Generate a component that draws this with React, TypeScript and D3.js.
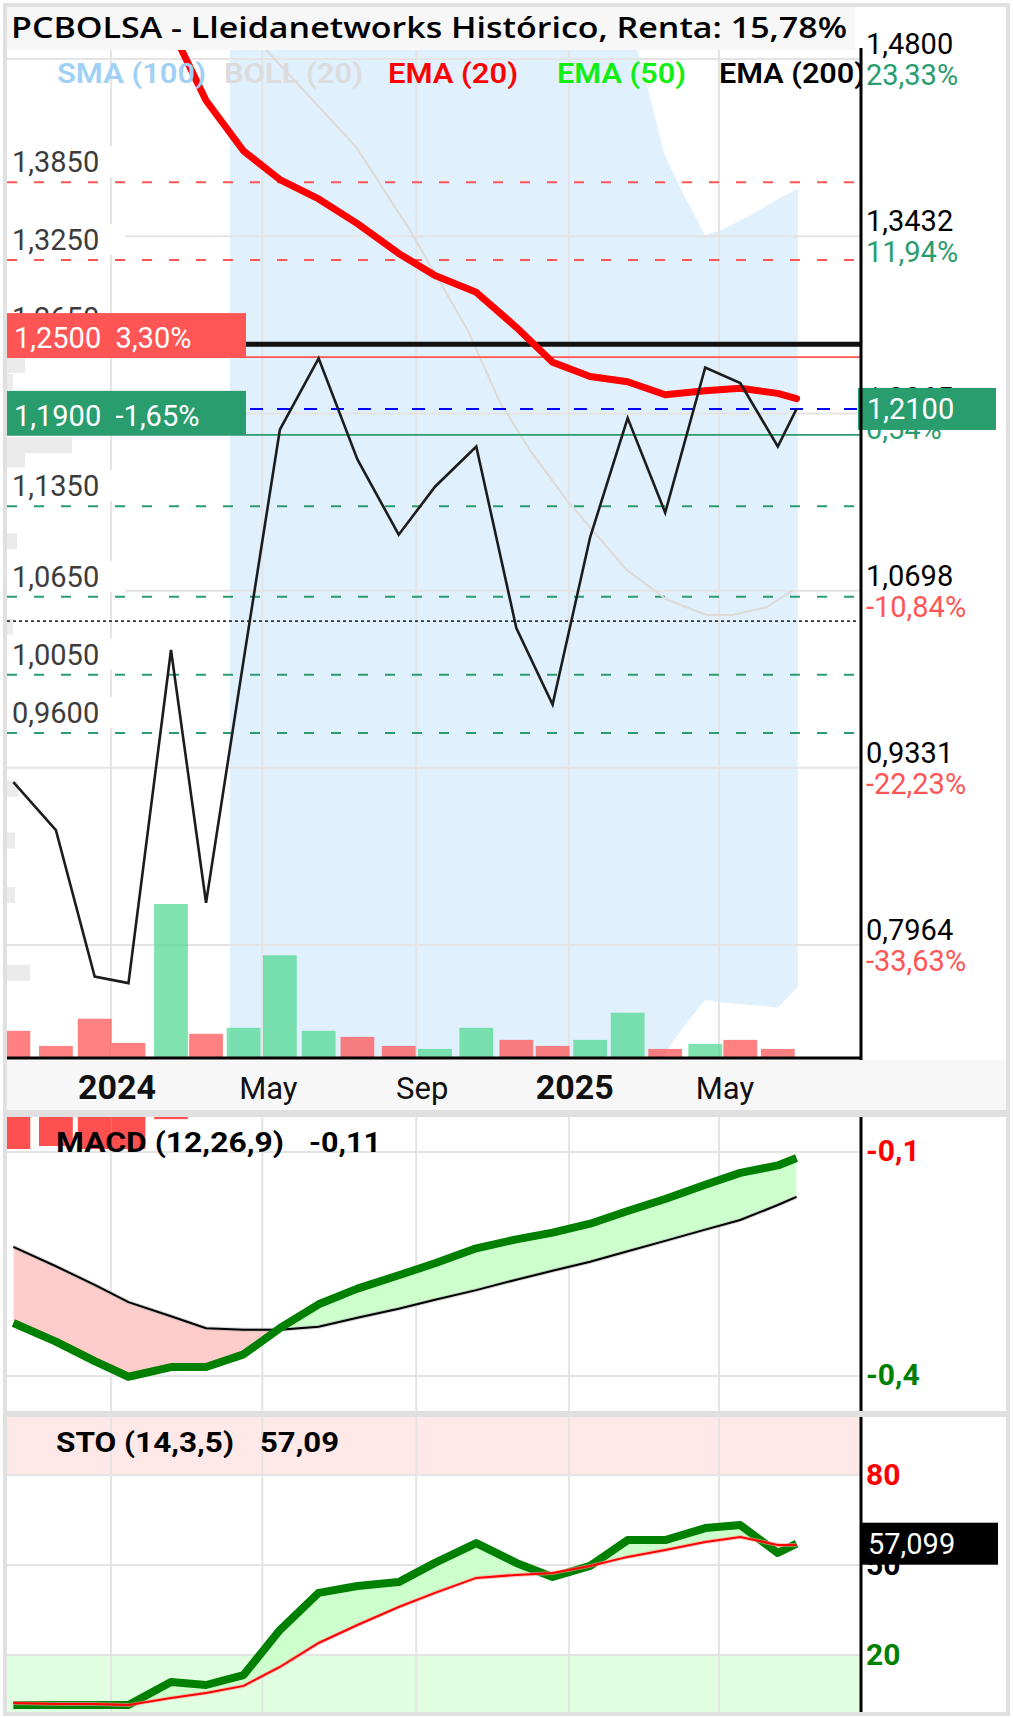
import React from 'react';
import * as d3 from 'd3';

// monthly history (last point = current day)
const dates = [
  '2023-10-15', '2023-11-18', '2023-12-19', '2024-01-15', '2024-02-18', '2024-03-17',
  '2024-04-16', '2024-05-15', '2024-06-15', '2024-07-16', '2024-08-18', '2024-09-16',
  '2024-10-19', '2024-11-20', '2024-12-19', '2025-01-18', '2025-02-17', '2025-03-19',
  '2025-04-20', '2025-05-18', '2025-06-17', '2025-07-02',
];
const close = [
  0.922, 0.885, 0.772, 0.767, 1.024, 0.829, 1.016, 1.194, 1.249, 1.171, 1.113,
  1.15, 1.181, 1.041, 0.982, 1.111, 1.203, 1.13, 1.242, 1.23, 1.181, 1.21,
];
const volume = [180, 80, 260, 100, 1020, 160, 200, 680, 180, 140, 80, 60, 200, 120, 80, 120, 300, 60, 93, 120, 60];
const ema20 = [
  null, null, null, null, 1.504, 1.448, 1.409, 1.387, 1.372, 1.353, 1.33,
  1.313, 1.3, 1.273, 1.246, 1.235, 1.231, 1.221, 1.224, 1.226, 1.222, 1.218,
];
const macdLine = [
  -0.329, -0.354, -0.38, -0.401, -0.388, -0.388, -0.371, -0.336, -0.304, -0.283, -0.265,
  -0.249, -0.229, -0.217, -0.208, -0.196, -0.179, -0.163, -0.144, -0.128, -0.118, -0.108,
];
const macdSignal = [
  -0.227, -0.253, -0.278, -0.301, -0.32, -0.336, -0.338, -0.338, -0.334, -0.322, -0.31,
  -0.298, -0.285, -0.271, -0.259, -0.247, -0.233, -0.219, -0.204, -0.191, -0.171, -0.16,
];
const macdHist = [
  -0.096, -0.092, -0.096, -0.096, -0.056, -0.052, -0.033, 0.002, 0.03, 0.039, 0.045,
  0.049, 0.056, 0.054, 0.051, 0.051, 0.054, 0.056, 0.06, 0.063, 0.053,
];
const stoK = [
  3.3, 3.3, 3.3, 3.3, 11, 10, 13.3, 28.3, 40.7, 43, 44.3,
  50.7, 57.3, 50.7, 46, 49.7, 58.3, 58.3, 62.3, 63.3, 54, 57.099,
];
const stoD = [
  4, 3.7, 3.7, 3.3, 5.7, 7.3, 9.7, 16, 24, 30, 36,
  40.7, 45.7, 46.7, 47.3, 49.7, 52.7, 55, 57.7, 59.3, 56.7, 56.7,
];

// SMA (100)
const smaDates = [
  '2024-04-16', '2024-05-06', '2024-07-15', '2024-08-27', '2024-10-12', '2024-11-07', '2024-12-01',
  '2024-12-30', '2025-02-16', '2025-03-20', '2025-04-21', '2025-05-12', '2025-06-08', '2025-06-29',
];
const smaValues = [1.505, 1.485, 1.412, 1.348, 1.271, 1.215, 1.178, 1.14, 1.086, 1.063, 1.051, 1.051, 1.057, 1.07];

// BOLL (20)
const bandDates = [
  '2024-04-05', '2025-02-21', '2025-03-02', '2025-03-18', '2025-04-04',
  '2025-04-20', '2025-05-03', '2025-05-29', '2025-06-17', '2025-07-03',
];
const bandUpper = [1.95, 1.5, 1.469, 1.407, 1.373, 1.344, 1.348, 1.361, 1.372, 1.38];
const bandLower = [0.3, 0.66, 0.68, 0.712, 0.735, 0.754, 0.752, 0.75, 0.748, 0.764];

// levels
const srLevels = [1.385, 1.325, 1.135, 1.065, 1.005, 0.96];
const coveredLevels = [1.265]; // label sits under the alert box
const pivotLevel = 1.0463;
const ema200Level = 1.26;
const alertPrices = [1.25, 1.19];
const alertPcts = [3.3, -1.65];
const priceTicks = [1.48, 1.3432, 1.2065, 1.0698, 0.9331, 0.7964];
const tickPcts = [23.33, 11.94, 0.54, -10.84, -22.23, -33.63];
const macdTicks = [-0.1, -0.4];
const stoTicks = [80, 50, 20];
const profilePrices = [1.244, 1.231, 1.182, 1.171, 1.108, 1.042, 0.917, 0.877, 0.835, 0.775];
const profileVolume = [18, 6, 65, 18, 10, 6, 11, 8, 8, 23];

const legendLabels = ['SMA (100)', 'BOLL (20)', 'EMA (20)', 'EMA (50)', 'EMA (200)'];
const legendColors = ['#9fd0f5', '#dcdcdc', '#ff0000', '#11ee11', '#000000'];
const legendX = [57, 224, 388, 557, 719];
const legendW = [149, 139, 130, 129, 146];

const FONT = 'Roboto, "DejaVu Sans", sans-serif';
const GREEN = '#2a9d6f';
const RED = '#ff5555';

const parse = d3.timeParse('%Y-%m-%d');
const fmt4 = (v: number) => v.toFixed(4).replace('.', ',');
const fmtPct = (v: number) => v.toFixed(2).replace('.', ',') + '%';

const L = 7, R = 861;
const MAIN_TOP = 50, MAIN_BOT = 1058;
const MACD_TOP = 1117, MACD_BOT = 1411;
const STO_TOP = 1417, STO_BOT = 1712;

type P = { x: number; a: number; b: number };

function BetweenFill({ id, pts, top, bottom, up, down }: { id: string; pts: P[]; top: number; bottom: number; up: string; down: string }) {
  const above = d3.area<P>().x(p => p.x).y0(top).y1(p => p.b)(pts) || '';
  const below = d3.area<P>().x(p => p.x).y0(p => p.b).y1(bottom)(pts) || '';
  const fill = d3.area<P>().x(p => p.x).y0(p => p.b).y1(p => p.a)(pts) || '';
  return (
    <g>
      <defs>
        <clipPath id={id + '-up'}><path d={above} /></clipPath>
        <clipPath id={id + '-dn'}><path d={below} /></clipPath>
      </defs>
      <path d={fill} fill={up} clipPath={`url(#${id}-up)`} />
      <path d={fill} fill={down} clipPath={`url(#${id}-dn)`} />
    </g>
  );
}

export default function App() {
  const dts = dates.map(d => parse(d) as Date);
  const x = d3.scaleTime().domain([new Date(2023, 9, 10, 17), new Date(2025, 7, 22, 12)]).range([8, R]);
  const yP = d3.scaleLinear().domain([0.7964, 1.48]).range([945, 59]);
  const yV = d3.scaleLinear().domain([0, d3.max(volume) as number]).range([MAIN_BOT, 904]);
  const yM = d3.scaleLinear().domain([-0.4, -0.1]).range([1376, 1152]);
  const yS = d3.scaleLinear().domain([0, 100]).range([1715, 1415]);
  const xTicks = x.ticks(d3.timeMonth.every(4) as d3.TimeInterval);
  const barW = x(new Date(2024, 0, 28)) - x(new Date(2024, 0, 1));
  const last = close[close.length - 1];

  const priceLine = d3.line<number>().x((_, i) => x(dts[i])).y(v => yP(v))(close) || '';
  const emaLine = d3.line<number | null>()
    .defined(v => v != null)
    .x((_, i) => x(dts[i]))
    .y(v => yP(v as number))(ema20) || '';
  const smaLine = d3.line<number>().x((_, i) => x(parse(smaDates[i]) as Date)).y(v => yP(v))(smaValues) || '';
  const band = d3.area<number>()
    .x((_, i) => x(parse(bandDates[i]) as Date))
    .y0((_, i) => yP(bandLower[i]))
    .y1(v => yP(v))(bandUpper) || '';

  const macdPts: P[] = dts.map((d, i) => ({ x: x(d), a: yM(macdLine[i]), b: yM(macdSignal[i]) }));
  const stoPts: P[] = dts.map((d, i) => ({ x: x(d), a: yS(stoK[i]), b: yS(stoD[i]) }));
  const lineA = d3.line<P>().x(p => p.x).y(p => p.a);
  const lineB = d3.line<P>().x(p => p.x).y(p => p.b);

  const vGrid = (y1: number, y2: number, k: string) =>
    xTicks.map((t, i) => (
      <line key={k + i} x1={x(t)} x2={x(t)} y1={y1} y2={y2} stroke="#e4e4e4" strokeWidth={2} />
    ));

  const macdHeader = macdLine[macdLine.length - 1].toFixed(2).replace('.', ',');
  const stoLast = stoK[stoK.length - 1];
  const stoHeader = (Math.floor(stoLast * 100) / 100).toFixed(2).replace('.', ',');

  return (
    <svg width={1013} height={1718} style={{ position: 'absolute', left: 0, top: 0, display: 'block' }} fontFamily={FONT}>
      <defs>
        <clipPath id="clip-main"><rect x={L} y={MAIN_TOP} width={R - L} height={MAIN_BOT - MAIN_TOP} /></clipPath>
        <clipPath id="clip-macd"><rect x={L} y={MACD_TOP} width={R - L} height={MACD_BOT - MACD_TOP} /></clipPath>
        <clipPath id="clip-sto"><rect x={L} y={STO_TOP} width={R - L} height={STO_BOT - STO_TOP} /></clipPath>
      </defs>
      <rect x={0} y={0} width={1013} height={1718} fill="#fff" />

      {/* ---------- main price panel ---------- */}
      <g clipPath="url(#clip-main)">
        <path d={band} fill="#e0f0fc" />
        {priceTicks.map((v, i) => (
          <line key={'hg' + i} x1={L} x2={R} y1={yP(v)} y2={yP(v)} stroke="#e4e4e4" strokeWidth={2} />
        ))}
        {vGrid(MAIN_TOP, MAIN_BOT, 'vg')}
        {profilePrices.map((p, i) => (
          <rect key={'pf' + i} x={L} y={yP(p) - 8} width={profileVolume[i]} height={16} fill="#ebebeb" />
        ))}
        {coveredLevels.map((v, i) => (
          <text key={'cv' + i} x={12} y={yP(v) - 10} fontSize={29} fill="#3c3c3c">{fmt4(v)}</text>
        ))}
        {srLevels.map((v, i) => (
          <g key={'sr' + i}>
            <rect x={L} y={yP(v) - 36} width={118} height={31} fill="#fff" />
            <text x={12} y={yP(v) - 10} fontSize={29} fill="#3c3c3c">{fmt4(v)}</text>
            <line x1={L} x2={856} y1={yP(v)} y2={yP(v)} stroke={v > last ? RED : GREEN}
              strokeWidth={2} strokeDasharray="10,17" />
          </g>
        ))}
        <line x1={L} x2={856} y1={yP(pivotLevel)} y2={yP(pivotLevel)} stroke="#333" strokeWidth={1.6} strokeDasharray="3,3" />

        {volume.map((v, i) => (
          <rect key={'vb' + i} x={x(dts[i]) - barW / 2} y={yV(v)} width={barW} height={MAIN_BOT - yV(v)}
            fill={i > 0 && close[i] >= close[i - 1] ? '#4ad68b' : '#ff4a4a'} fillOpacity={0.7} />
        ))}

        <path d={smaLine} fill="none" stroke="#dedad6" strokeWidth={2} />
        <line x1={L} x2={R} y1={yP(ema200Level)} y2={yP(ema200Level)} stroke="#111" strokeWidth={5} />
        <line x1={L} x2={R} y1={yP(alertPrices[0])} y2={yP(alertPrices[0])} stroke={RED} strokeWidth={1.6} />
        <line x1={L} x2={R} y1={yP(alertPrices[1])} y2={yP(alertPrices[1])} stroke={GREEN} strokeWidth={1.6} />
        <line x1={L} x2={R} y1={yP(last)} y2={yP(last)} stroke="#0000ff" strokeWidth={2} strokeDasharray="13,14" />
        <path d={emaLine} fill="none" stroke="#ff0000" strokeWidth={7} strokeLinejoin="round" strokeLinecap="round" />
        <path d={priceLine} fill="none" stroke="#1c1c1c" strokeWidth={2.6} strokeLinejoin="miter" />

        {alertPrices.map((v, i) => (
          <g key={'al' + i}>
            <rect x={L} y={yP(v) - 44} width={239} height={44} fill={i === 0 ? RED : GREEN} />
            <text x={14} y={yP(v) - 9} fontSize={29} fill="#fff" style={{ whiteSpace: 'pre' }}>
              {fmt4(v) + '  ' + fmtPct(alertPcts[i])}
            </text>
          </g>
        ))}

        {legendLabels.map((t, i) => (
          <text key={'lg' + i} x={legendX[i]} y={83} fontSize={28} fontWeight={600} fill={legendColors[i]}
            textLength={legendW[i]} lengthAdjust="spacingAndGlyphs">{t}</text>
        ))}
      </g>

      {/* title band */}
      <rect x={L} y={7} width={848} height={43} fill="#f7f7f7" />
      <text x={11} y={38} fontFamily='"Open Sans", "Noto Sans", sans-serif' fontWeight={600} fontSize={28}
        textLength={836} lengthAdjust="spacingAndGlyphs">PCBOLSA - Lleidanetworks Histórico, Renta: 15,78%</text>

      {/* right price axis */}
      {priceTicks.map((v, i) => (
        <g key={'pt' + i}>
          <text x={866} y={yP(v) - 5} fontSize={29} fill="#000">{fmt4(v)}</text>
          <text x={866} y={yP(v) + 26} fontSize={29} fill={tickPcts[i] >= 0 ? GREEN : RED}>{fmtPct(tickPcts[i])}</text>
        </g>
      ))}
      <rect x={858} y={yP(last) - 21} width={138} height={42} fill={GREEN} />
      <text x={867} y={yP(last) + 10} fontSize={29} fill="#fff">{fmt4(last)}</text>
      <line x1={R} x2={R} y1={48} y2={MAIN_BOT + 2} stroke="#000" strokeWidth={3} />
      <line x1={L} x2={R + 1} y1={MAIN_BOT} y2={MAIN_BOT} stroke="#000" strokeWidth={3} />

      {/* time axis band */}
      <rect x={L} y={1060} width={1001} height={50} fill="#f7f7f7" />
      <rect x={L} y={1110} width={1001} height={7} fill="#e0e0e0" />
      {xTicks.map((t, i) => (
        <text key={'xt' + i} x={x(t) + 6} y={1099} textAnchor="middle"
          fontSize={t.getMonth() === 0 ? 34 : 31}
          fontWeight={t.getMonth() === 0 ? 700 : 400} fill="#111">
          {t.getMonth() === 0 ? d3.timeFormat('%Y')(t) : d3.timeFormat('%b')(t)}
        </text>
      ))}

      {/* ---------- MACD panel ---------- */}
      <g clipPath="url(#clip-macd)">
        {macdTicks.map((v, i) => (
          <line key={'mg' + i} x1={L} x2={R} y1={yM(v)} y2={yM(v)} stroke="#e4e4e4" strokeWidth={2} />
        ))}
        {vGrid(MACD_TOP, MACD_BOT, 'mvg')}
        {macdHist.map((v, i) => (
          <rect key={'mh' + i} x={x(dts[i]) - barW / 2} y={Math.min(yM(0), yM(v))} width={barW}
            height={Math.abs(yM(v) - yM(0))} fill={v < 0 ? '#ff5050' : '#30c070'} />
        ))}
        <BetweenFill id="macdf" pts={macdPts} top={MACD_TOP} bottom={MACD_BOT} up="#ccffcc" down="#ffcccc" />
        <path d={lineB(macdPts) || ''} fill="none" stroke="#aaa" strokeWidth={4} strokeOpacity={0.5} />
        <path d={lineB(macdPts) || ''} fill="none" stroke="#000" strokeWidth={2} />
        <path d={lineA(macdPts) || ''} fill="none" stroke="#008000" strokeWidth={8} strokeLinejoin="round" />
      </g>
      <text x={56} y={1152} fontSize={28} fontWeight={700} textLength={228} lengthAdjust="spacingAndGlyphs">MACD (12,26,9)</text>
      <text x={309} y={1152} fontSize={28} fontWeight={700} textLength={72} lengthAdjust="spacingAndGlyphs">{macdHeader}</text>
      {macdTicks.map((v, i) => (
        <text key={'mt' + i} x={866} y={yM(v) + 9} fontSize={30} fontWeight={700} fill={i === 0 ? '#ff0000' : '#008000'}>
          {String(v).replace('.', ',')}
        </text>
      ))}
      <line x1={R} x2={R} y1={MACD_TOP} y2={MACD_BOT} stroke="#000" strokeWidth={3} />
      <rect x={L} y={MACD_BOT} width={1001} height={6} fill="#e0e0e0" />

      {/* ---------- STO panel ---------- */}
      <g clipPath="url(#clip-sto)">
        <rect x={L} y={yS(100)} width={R - L} height={yS(80) - yS(100)} fill="#ffe8e8" />
        <rect x={L} y={yS(20)} width={R - L} height={yS(0) - yS(20)} fill="#e0ffe0" />
        {stoTicks.map((v, i) => (
          <line key={'sg' + i} x1={L} x2={R} y1={yS(v)} y2={yS(v)} stroke="#e4e4e4" strokeWidth={2} />
        ))}
        {vGrid(STO_TOP, STO_BOT, 'svg')}
        <BetweenFill id="stof" pts={stoPts} top={STO_TOP} bottom={STO_BOT} up="#ccffcc" down="#ffd6d6" />
        <path d={lineA(stoPts) || ''} fill="none" stroke="#008000" strokeWidth={8} strokeLinejoin="round" />
        <path d={lineB(stoPts) || ''} fill="none" stroke="#ff9999" strokeWidth={4} strokeOpacity={0.6} />
        <path d={lineB(stoPts) || ''} fill="none" stroke="#ff0000" strokeWidth={2} />
      </g>
      <text x={56} y={1452} fontSize={28} fontWeight={700} textLength={178} lengthAdjust="spacingAndGlyphs">STO (14,3,5)</text>
      <text x={260} y={1452} fontSize={28} fontWeight={700} textLength={79} lengthAdjust="spacingAndGlyphs">{stoHeader}</text>
      {stoTicks.map((v, i) => (
        <text key={'st' + i} x={866} y={yS(v) + 10} fontSize={30} fontWeight={700}
          fill={i === 0 ? '#ff0000' : i === 2 ? '#008000' : '#000'}>{v}</text>
      ))}
      <rect x={R} y={yS(stoLast) - 21} width={137} height={42} fill="#000" />
      <text x={868} y={yS(stoLast) + 10} fontSize={29} fill="#fff">{stoLast.toFixed(3).replace('.', ',')}</text>
      <line x1={R} x2={R} y1={STO_TOP} y2={STO_BOT} stroke="#000" strokeWidth={3} />

      {/* outer frame */}
      <rect x={5} y={5} width={1003} height={1709} fill="none" stroke="#e0e0e0" strokeWidth={4} />
    </svg>
  );
}
